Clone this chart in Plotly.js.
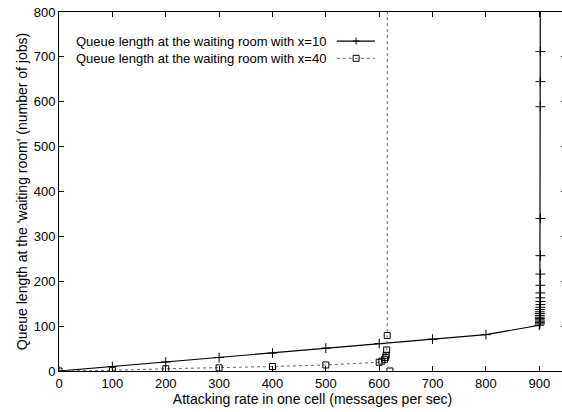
<!DOCTYPE html>
<html>
<head>
<meta charset="utf-8">
<script src="https://cdn.plot.ly/plotly-3.0.1.min.js"></script>
<style>
html, body { margin: 0; padding: 0; overflow: hidden; background: #fff; }
#chart { width: 570px; height: 412px; }
</style>
</head>
<body>
<div id="chart"></div>
<script>
// Series: x = 10
const x10 = [0, 100, 200, 300, 400, 500, 600, 700, 800, 900, 901, 901, 901, 901, 901, 901, 901, 901, 901, 901, 902, 902, 902, 902, 902, 902, 902, 902, 902, 902, 902, 902, 902];
const y10 = [0, 10, 20, 30, 40, 51, 61, 71, 81, 102, 105, 108, 111, 114, 117, 120, 124, 128, 132, 137, 142, 148, 155, 163, 174, 191, 216, 257, 340, 589, 645, 712, 1000];
// Series: x = 40
const x40 = [0, 100, 200, 300, 400, 500, 600, 605, 610, 612, 613, 614, 615, 616, null, 620];
const y40 = [0, 1.5, 5, 7, 10, 13.5, 19.5, 22, 26, 30, 35, 47, 79, 5000, null, 0];

const name10 = "Queue length at the waiting room with x=10";
const name40 = "Queue length at the waiting room with x=40";
const xTitle = "Attacking rate in one cell (messages per sec)";
const yTitle = "Queue length at the 'waiting room' (number of jobs)";
const xTicks = [0, 100, 200, 300, 400, 500, 600, 700, 800, 900];
const yTicks = [0, 100, 200, 300, 400, 500, 600, 700, 800];

const font = {family: "Liberation Sans, Arial, sans-serif", size: 13, color: "#000"};
const titleFont = {family: "Liberation Sans, Arial, sans-serif", size: 14, color: "#000"};

const traces = [
  {x: x10, y: y10, name: name10, mode: "lines+markers", type: "scatter",
   line: {color: "#000", width: 1.2},
   marker: {symbol: "cross-thin", size: 7, line: {color: "#000", width: 1}},
   showlegend: false},
  {x: x40, y: y40, name: name40, mode: "lines+markers", type: "scatter",
   connectgaps: false,
   line: {color: "#666", width: 1, dash: "dot"},
   marker: {symbol: "square-open", size: 6, color: "#000", line: {color: "#000", width: 1}},
   showlegend: false}
];

// legend drawn as gnuplot-style key: text right-aligned, sample to the right
const keyTextX = 0.5306, keySampleX0 = 0.548, keySampleX1 = 0.623, keyMarkX = 0.586;
const keyY1 = 0.919, keyY2 = 0.871;

const layout = {
  width: 570, height: 412,
  margin: {l: 59, r: 4, t: 11.5, b: 41},
  paper_bgcolor: "#fff", plot_bgcolor: "#fff",
  font: font,
  showlegend: false,
  xaxis: {
    range: [0, 950], tickvals: xTicks, ticktext: xTicks.map(String),
    ticks: "inside", ticklen: 5, tickcolor: "#000", tickwidth: 1,
    showline: true, linecolor: "#000", linewidth: 1, mirror: "ticks",
    showgrid: false, zeroline: false,
    title: {text: xTitle, font: titleFont, standoff: 1},
    tickfont: font
  },
  yaxis: {
    range: [0, 800], tickvals: yTicks, ticktext: yTicks.map(String),
    ticks: "inside", ticklen: 5, tickcolor: "#000", tickwidth: 1,
    showline: true, linecolor: "#000", linewidth: 1, mirror: "ticks",
    showgrid: false, zeroline: false,
    title: {text: yTitle, font: titleFont, standoff: 2},
    tickfont: font
  },
  annotations: [
    {xref: "paper", yref: "paper", x: keyTextX, y: keyY1, xanchor: "right", yanchor: "middle",
     text: name10, showarrow: false, font: font},
    {xref: "paper", yref: "paper", x: keyTextX, y: keyY2, xanchor: "right", yanchor: "middle",
     text: name40, showarrow: false, font: font}
  ],
  shapes: [
    {type: "line", xref: "paper", yref: "paper", x0: keySampleX0, x1: keySampleX1, y0: keyY1, y1: keyY1,
     line: {color: "#000", width: 1.2}},
    {type: "path", xref: "paper", yref: "paper", xsizemode: "pixel", ysizemode: "pixel",
     xanchor: keyMarkX, yanchor: keyY1, path: "M-3.5,0H3.5M0,-3.5V3.5",
     line: {color: "#000", width: 1}},
    {type: "line", xref: "paper", yref: "paper", x0: keySampleX0, x1: keySampleX1, y0: keyY2, y1: keyY2,
     line: {color: "#666", width: 1, dash: "dot"}},
    {type: "rect", xref: "paper", yref: "paper", xsizemode: "pixel", ysizemode: "pixel",
     xanchor: keyMarkX, yanchor: keyY2, x0: -3, x1: 3, y0: -3, y1: 3,
     line: {color: "#000", width: 1}, fillcolor: "rgba(0,0,0,0)"}
  ]
};

Plotly.newPlot("chart", traces, layout, {staticPlot: true, displayModeBar: false});
</script>
</body>
</html>
